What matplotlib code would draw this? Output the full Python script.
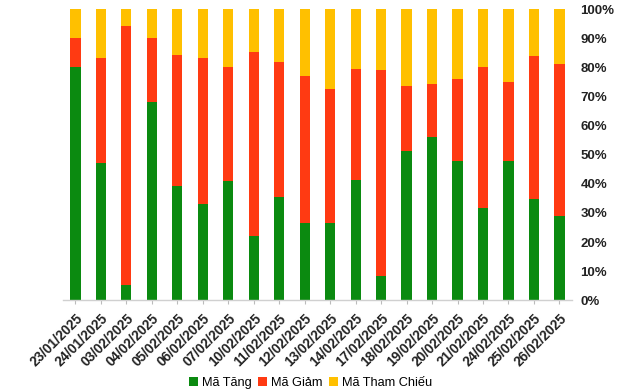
import numpy as np
import matplotlib.pyplot as plt

ngay = ['23/01/2025', '24/01/2025', '03/02/2025', '04/02/2025', '05/02/2025',
        '06/02/2025', '07/02/2025', '10/02/2025', '11/02/2025', '12/02/2025',
        '13/02/2025', '14/02/2025', '17/02/2025', '18/02/2025', '19/02/2025',
        '20/02/2025', '21/02/2025', '24/02/2025', '25/02/2025', '26/02/2025']
ma_tang = [80.1, 47.1, 5.2, 68.2, 39.3, 33.1, 40.9, 22.1, 35.4, 26.5,
           26.5, 41.3, 8.4, 51.2, 56.0, 47.8, 31.7, 47.8, 34.7, 29.0]
ma_giam = [9.9, 36.1, 89.0, 21.8, 44.9, 50.1, 39.2, 63.1, 46.4, 50.5,
           46.0, 38.1, 70.6, 22.3, 18.2, 28.1, 48.4, 27.1, 49.1, 52.1]
ma_tham_chieu = [10.0, 16.8, 5.8, 10.0, 15.8, 16.8, 19.9, 14.8, 18.2, 23.0,
                 27.5, 20.6, 21.0, 26.5, 25.8, 24.1, 19.9, 25.1, 16.2, 18.9]

plt.rcParams['font.family'] = ['Liberation Sans', 'DejaVu Sans']

fig = plt.figure(figsize=(6.4, 3.92), dpi=100)
ax = fig.add_axes([0.098, 0.234, 0.796, 0.743])

x = np.arange(len(ngay))
tang = np.array(ma_tang)
giam = np.array(ma_giam)
tc = np.array(ma_tham_chieu)

ax.bar(x, tang, width=0.4, color='#0B8A10', label='Mã Tăng')
ax.bar(x, giam, width=0.4, bottom=tang, color='#FF3A12', label='Mã Giảm')
ax.bar(x, tc, width=0.4, bottom=tang + giam, color='#FFC000', label='Mã Tham Chiếu')

ax.set_xlim(-0.5, len(ngay) - 0.5)
ax.set_ylim(0, 100)
ax.yaxis.tick_right()
ax.set_yticks(np.arange(0, 101, 10))
ax.set_yticklabels([f'{v}%' for v in range(0, 101, 10)], fontsize=9.5, fontweight='bold', color='#222222')
ax.tick_params(axis='y', length=0, pad=6)
ax.set_xticks(x)
ax.set_xticklabels(ngay, rotation=45, ha='right', rotation_mode='anchor', fontsize=9.8,
                   fontweight='bold', color='#222222')
ax.tick_params(axis='x', length=3, color='#bbbbbb', pad=5)

for s in ['top', 'left', 'right']:
    ax.spines[s].set_visible(False)
ax.spines['bottom'].set_color('#d0d0d0')
ax.spines['bottom'].set_linewidth(1)

leg = fig.legend(loc='lower center', bbox_to_anchor=(0.485, -0.022), ncol=3, frameon=False,
                 fontsize=9.2, handlelength=0.7, handleheight=0.7, handletextpad=0.3,
                 columnspacing=0.5)

fig.savefig('out.png', dpi=100)
